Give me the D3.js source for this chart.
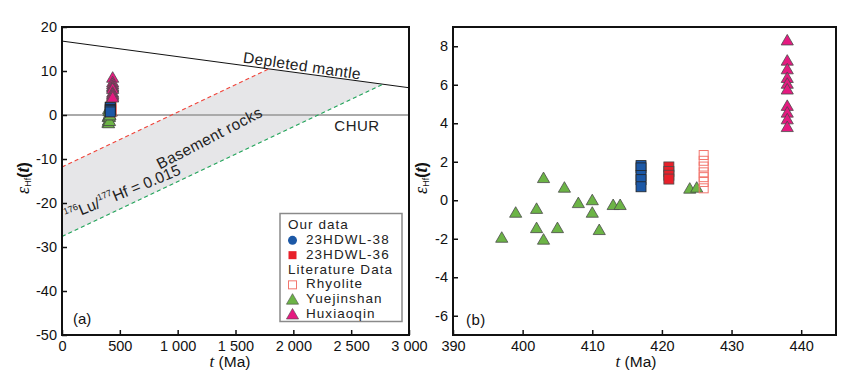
<!DOCTYPE html>
<html>
<head>
<meta charset="utf-8">
<script src="https://cdn.jsdelivr.net/npm/d3@7"></script>
<style>
  body { margin: 0; background: #fff; }
  svg { font-family: Arial, "Liberation Sans", sans-serif; }
</style>
</head>
<body>
<script>
// ---- data ----
const yjAge = [397, 399, 402, 402, 403, 403, 405, 406, 408, 410, 410, 411, 413, 414, 424, 425];
const yjHf  = [-2.0, -0.7, -0.5, -1.5, -2.1, 1.1, -1.5, 0.6, -0.2, -0.05, -0.7, -1.6, -0.3, -0.3, 0.55, 0.6];
const hxAge = [438, 438, 438, 438, 438, 438, 438, 438, 438, 438];
const hxHf  = [8.25, 7.2, 6.75, 6.3, 6.0, 5.7, 4.85, 4.5, 4.15, 3.75];
const dw38Age = [417, 417, 417, 417, 417];
const dw38Hf  = [1.8, 1.68, 1.28, 1.07, 0.7];
const dw36Age = [421, 421, 421, 421];
const dw36Hf  = [1.73, 1.5, 1.3, 1.1];
const rhyAge = [426, 426, 426, 426, 426, 426, 426];
const rhyHf  = [2.35, 2.05, 1.75, 1.45, 1.2, 0.95, 0.62];

const dmLine    = [[0, 16.8], [3000, 6.2]];
const redLine   = [[0, -11.8], [1785, 10.45]];
const greenLine = [[0, -27.6], [2775, 7.0]];

const ticksA_x = [0, 500, 1000, 1500, 2000, 2500, 3000];
const ticksA_y = [20, 10, 0, -10, -20, -30, -40, -50];
const ticksB_x = [390, 400, 410, 420, 430, 440];
const ticksB_y = [8, 6, 4, 2, 0, -2, -4, -6];

const legendRows = [
  { label: 'Our data', sym: null },
  { label: '23HDWL-38', sym: 'circle' },
  { label: '23HDWL-36', sym: 'square' },
  { label: 'Literature Data', sym: null },
  { label: 'Rhyolite', sym: 'open' },
  { label: 'Yuejinshan', sym: 'triG' },
  { label: 'Huxiaoqin', sym: 'triP' }
];

const C = {
  blue: '#1c58a6', red: '#e8202a', rhy: '#f2766e',
  green: '#6cb446', pink: '#e51a80', edge: '#4a4a4a'
};

const W = 856, H = 381;
const svg = d3.select('body').append('svg').attr('width', W).attr('height', H);

const xA = d3.scaleLinear().domain([0, 3000]).range([62, 409]);
const yA = d3.scaleLinear().domain([-50, 20]).range([335, 27]);
const xB = d3.scaleLinear().domain([390, 445]).range([453, 836]);
const yB = d3.scaleLinear().domain([-7, 9]).range([335, 27]);

const zip = (a, b) => a.map((v, i) => [v, b[i]]);
const tri = d3.symbol().type(d3.symbolTriangle).size(64);

function drawAxes(x, y, xt, yt, xfmt) {
  const g = svg.append('g');
  const ax = g.append('g')
    .attr('transform', 'translate(0,' + y.range()[0] + ')')
    .call(d3.axisBottom(x).tickValues(xt).tickSizeInner(-5).tickSizeOuter(0).tickPadding(6).tickFormat(xfmt));
  const ay = g.append('g')
    .attr('transform', 'translate(' + x.range()[0] + ',0)')
    .call(d3.axisLeft(y).tickValues(yt).tickSizeInner(-5).tickSizeOuter(0).tickPadding(5).tickFormat(d => String(d)));
  [ax, ay].forEach(a => {
    a.select('.domain').remove();
    a.selectAll('text').attr('font-size', 14.5).attr('fill', '#111').attr('font-family', 'Arial, "Liberation Sans", sans-serif');
    a.selectAll('line').attr('stroke', '#111').attr('stroke-width', 1.5);
  });
  return g;
}

function drawFrame(x, y) {
  svg.append('rect')
    .attr('x', x.range()[0]).attr('y', y.range()[1])
    .attr('width', x.range()[1] - x.range()[0])
    .attr('height', y.range()[0] - y.range()[1])
    .attr('fill', 'none').attr('stroke', '#111').attr('stroke-width', 2);
}

function drawPoints(g, x, y) {
  g.append('g').selectAll('path').data(zip(yjAge, yjHf)).enter().append('path')
    .attr('d', tri).attr('transform', d => 'translate(' + x(d[0]) + ',' + y(d[1]) + ')')
    .attr('fill', C.green).attr('stroke', C.edge).attr('stroke-width', 0.8);
  g.append('g').selectAll('rect').data(zip(dw36Age, dw36Hf)).enter().append('rect')
    .attr('x', d => x(d[0]) - 5).attr('y', d => y(d[1]) - 5)
    .attr('width', 10).attr('height', 10)
    .attr('fill', C.red).attr('stroke', C.edge).attr('stroke-width', 0.8);
  g.append('g').selectAll('rect').data(zip(rhyAge, rhyHf)).enter().append('rect')
    .attr('x', d => x(d[0]) - 4.5).attr('y', d => y(d[1]) - 4.5)
    .attr('width', 9).attr('height', 9)
    .attr('fill', 'none').attr('stroke', C.rhy).attr('stroke-width', 1);
  g.append('g').selectAll('rect').data(zip(dw38Age, dw38Hf)).enter().append('rect')
    .attr('x', d => x(d[0]) - 5).attr('y', d => y(d[1]) - 5)
    .attr('width', 10).attr('height', 10)
    .attr('fill', C.blue).attr('stroke', '#222').attr('stroke-width', 0.8);
  g.append('g').selectAll('path').data(zip(hxAge, hxHf)).enter().append('path')
    .attr('d', tri).attr('transform', d => 'translate(' + x(d[0]) + ',' + y(d[1]) + ')')
    .attr('fill', C.pink).attr('stroke', C.edge).attr('stroke-width', 0.8);
}

function yLabel(cx, cy) {
  const t = svg.append('text')
    .attr('transform', 'translate(' + cx + ',' + cy + ') rotate(-90)')
    .attr('text-anchor', 'middle').attr('dominant-baseline', 'middle')
    .attr('fill', '#111');
  t.append('tspan').text('ε').attr('font-family', '"Liberation Serif", "Times New Roman", serif')
    .attr('font-style', 'italic').attr('font-size', 18);
  t.append('tspan').text('Hf').attr('font-size', 9).attr('dy', 4);
  t.append('tspan').text('(').attr('font-size', 16).attr('dy', -4).attr('font-weight', 'bold');
  t.append('tspan').text('t').attr('font-family', '"Liberation Serif", "Times New Roman", serif')
    .attr('font-style', 'italic').attr('font-weight', 'bold').attr('font-size', 18);
  t.append('tspan').text(')').attr('font-size', 16).attr('font-weight', 'bold');
}

function xLabel(cx, cy) {
  const t = svg.append('text').attr('x', cx).attr('y', cy)
    .attr('text-anchor', 'middle').attr('dominant-baseline', 'middle')
    .attr('font-size', 15.5).attr('fill', '#111');
  t.append('tspan').text('t').attr('font-family', '"Liberation Serif", "Times New Roman", serif')
    .attr('font-style', 'italic').attr('font-size', 17);
  t.append('tspan').text(' (Ma)');
}

// ---------- panel (a) ----------
const fmtA = d => d >= 1000 ? Math.floor(d / 1000) + ' ' + String(d % 1000).padStart(3, '0') : String(d);
const gA = svg.append('g');

const poly = [redLine[0], redLine[1], greenLine[1], greenLine[0]];
gA.append('path')
  .attr('d', d3.line().x(d => xA(d[0])).y(d => yA(d[1]))(poly) + 'Z')
  .attr('fill', '#e6e6e8');

gA.append('line')
  .attr('x1', xA(0)).attr('x2', xA(3000)).attr('y1', yA(0)).attr('y2', yA(0))
  .attr('stroke', '#aaaaaa').attr('stroke-width', 2);

const lineA = d3.line().x(d => xA(d[0])).y(d => yA(d[1]));
gA.append('path').attr('d', lineA(dmLine)).attr('fill', 'none').attr('stroke', '#111').attr('stroke-width', 1);
gA.append('path').attr('d', lineA(redLine)).attr('fill', 'none').attr('stroke', '#f0463c')
  .attr('stroke-width', 1.2).attr('stroke-dasharray', '4,3');
gA.append('path').attr('d', lineA(greenLine)).attr('fill', 'none').attr('stroke', '#22a45a')
  .attr('stroke-width', 1.2).attr('stroke-dasharray', '4,3');

gA.append('text').text('Depleted mantle')
  .attr('transform', 'translate(302,67) rotate(8.2)')
  .attr('text-anchor', 'middle').attr('dominant-baseline', 'middle')
  .attr('font-size', 15.5).attr('fill', '#222').attr('letter-spacing', 0.4);
gA.append('text').text('CHUR')
  .attr('x', 357).attr('y', 127).attr('text-anchor', 'middle').attr('dominant-baseline', 'middle')
  .attr('font-size', 15).attr('fill', '#222').attr('letter-spacing', 0.5);
gA.append('text').text('Basement rocks')
  .attr('transform', 'translate(210,139) rotate(-27.5)')
  .attr('text-anchor', 'middle').attr('dominant-baseline', 'middle')
  .attr('font-size', 15.5).attr('fill', '#222').attr('letter-spacing', 0.4);
const lu = gA.append('text')
  .attr('transform', 'translate(123,194) rotate(-22.5)')
  .attr('text-anchor', 'middle').attr('dominant-baseline', 'middle')
  .attr('font-size', 15.5).attr('fill', '#222');
lu.append('tspan').text('176').attr('font-size', 9).attr('dy', -5);
lu.append('tspan').text('Lu/').attr('dy', 5);
lu.append('tspan').text('177').attr('font-size', 9).attr('dy', -5);
lu.append('tspan').text('Hf = 0.015').attr('dy', 5);

drawPoints(gA, xA, yA);
drawAxes(xA, yA, ticksA_x, ticksA_y, fmtA);
drawFrame(xA, yA);

gA.append('text').text('(a)').attr('x', 73).attr('y', 320)
  .attr('dominant-baseline', 'middle').attr('font-size', 15).attr('fill', '#111');

// legend
const lg = svg.append('g');
lg.append('rect').attr('x', 280).attr('y', 213.5).attr('width', 122).attr('height', 108)
  .attr('fill', '#fff').attr('stroke', '#8a8a8a').attr('stroke-width', 1.5);
const rowY = d3.scaleLinear().domain([0, legendRows.length - 1]).range([225.5, 314.5]);
legendRows.forEach((r, i) => {
  const yy = rowY(i);
  lg.append('text').text(r.label)
    .attr('x', r.sym ? 306 : 288).attr('y', yy)
    .attr('dominant-baseline', 'middle').attr('font-size', 13.5)
    .attr('letter-spacing', 1.05).attr('fill', '#222');
  const sx = 292.5;
  if (r.sym === 'circle') {
    lg.append('circle').attr('cx', sx).attr('cy', yy).attr('r', 4.5).attr('fill', C.blue);
  } else if (r.sym === 'square') {
    lg.append('rect').attr('x', sx - 4).attr('y', yy - 4).attr('width', 8).attr('height', 8).attr('fill', C.red);
  } else if (r.sym === 'open') {
    lg.append('rect').attr('x', sx - 4).attr('y', yy - 4).attr('width', 8).attr('height', 8)
      .attr('fill', 'none').attr('stroke', C.rhy).attr('stroke-width', 1);
  } else if (r.sym === 'triG' || r.sym === 'triP') {
    lg.append('path').attr('d', tri).attr('transform', 'translate(' + sx + ',' + (yy + 1) + ')')
      .attr('fill', r.sym === 'triG' ? C.green : C.pink).attr('stroke', C.edge).attr('stroke-width', 0.6);
  }
});

yLabel(25, 178);
xLabel(230, 363);

// ---------- panel (b) ----------
const gB = svg.append('g');
drawPoints(gB, xB, yB);
drawAxes(xB, yB, ticksB_x, ticksB_y, d => String(d));
drawFrame(xB, yB);
gB.append('text').text('(b)').attr('x', 466).attr('y', 321.5)
  .attr('dominant-baseline', 'middle').attr('font-size', 15).attr('fill', '#111').attr('letter-spacing', 0.5);

yLabel(423, 178);
xLabel(636, 363);
</script>
</body>
</html>
